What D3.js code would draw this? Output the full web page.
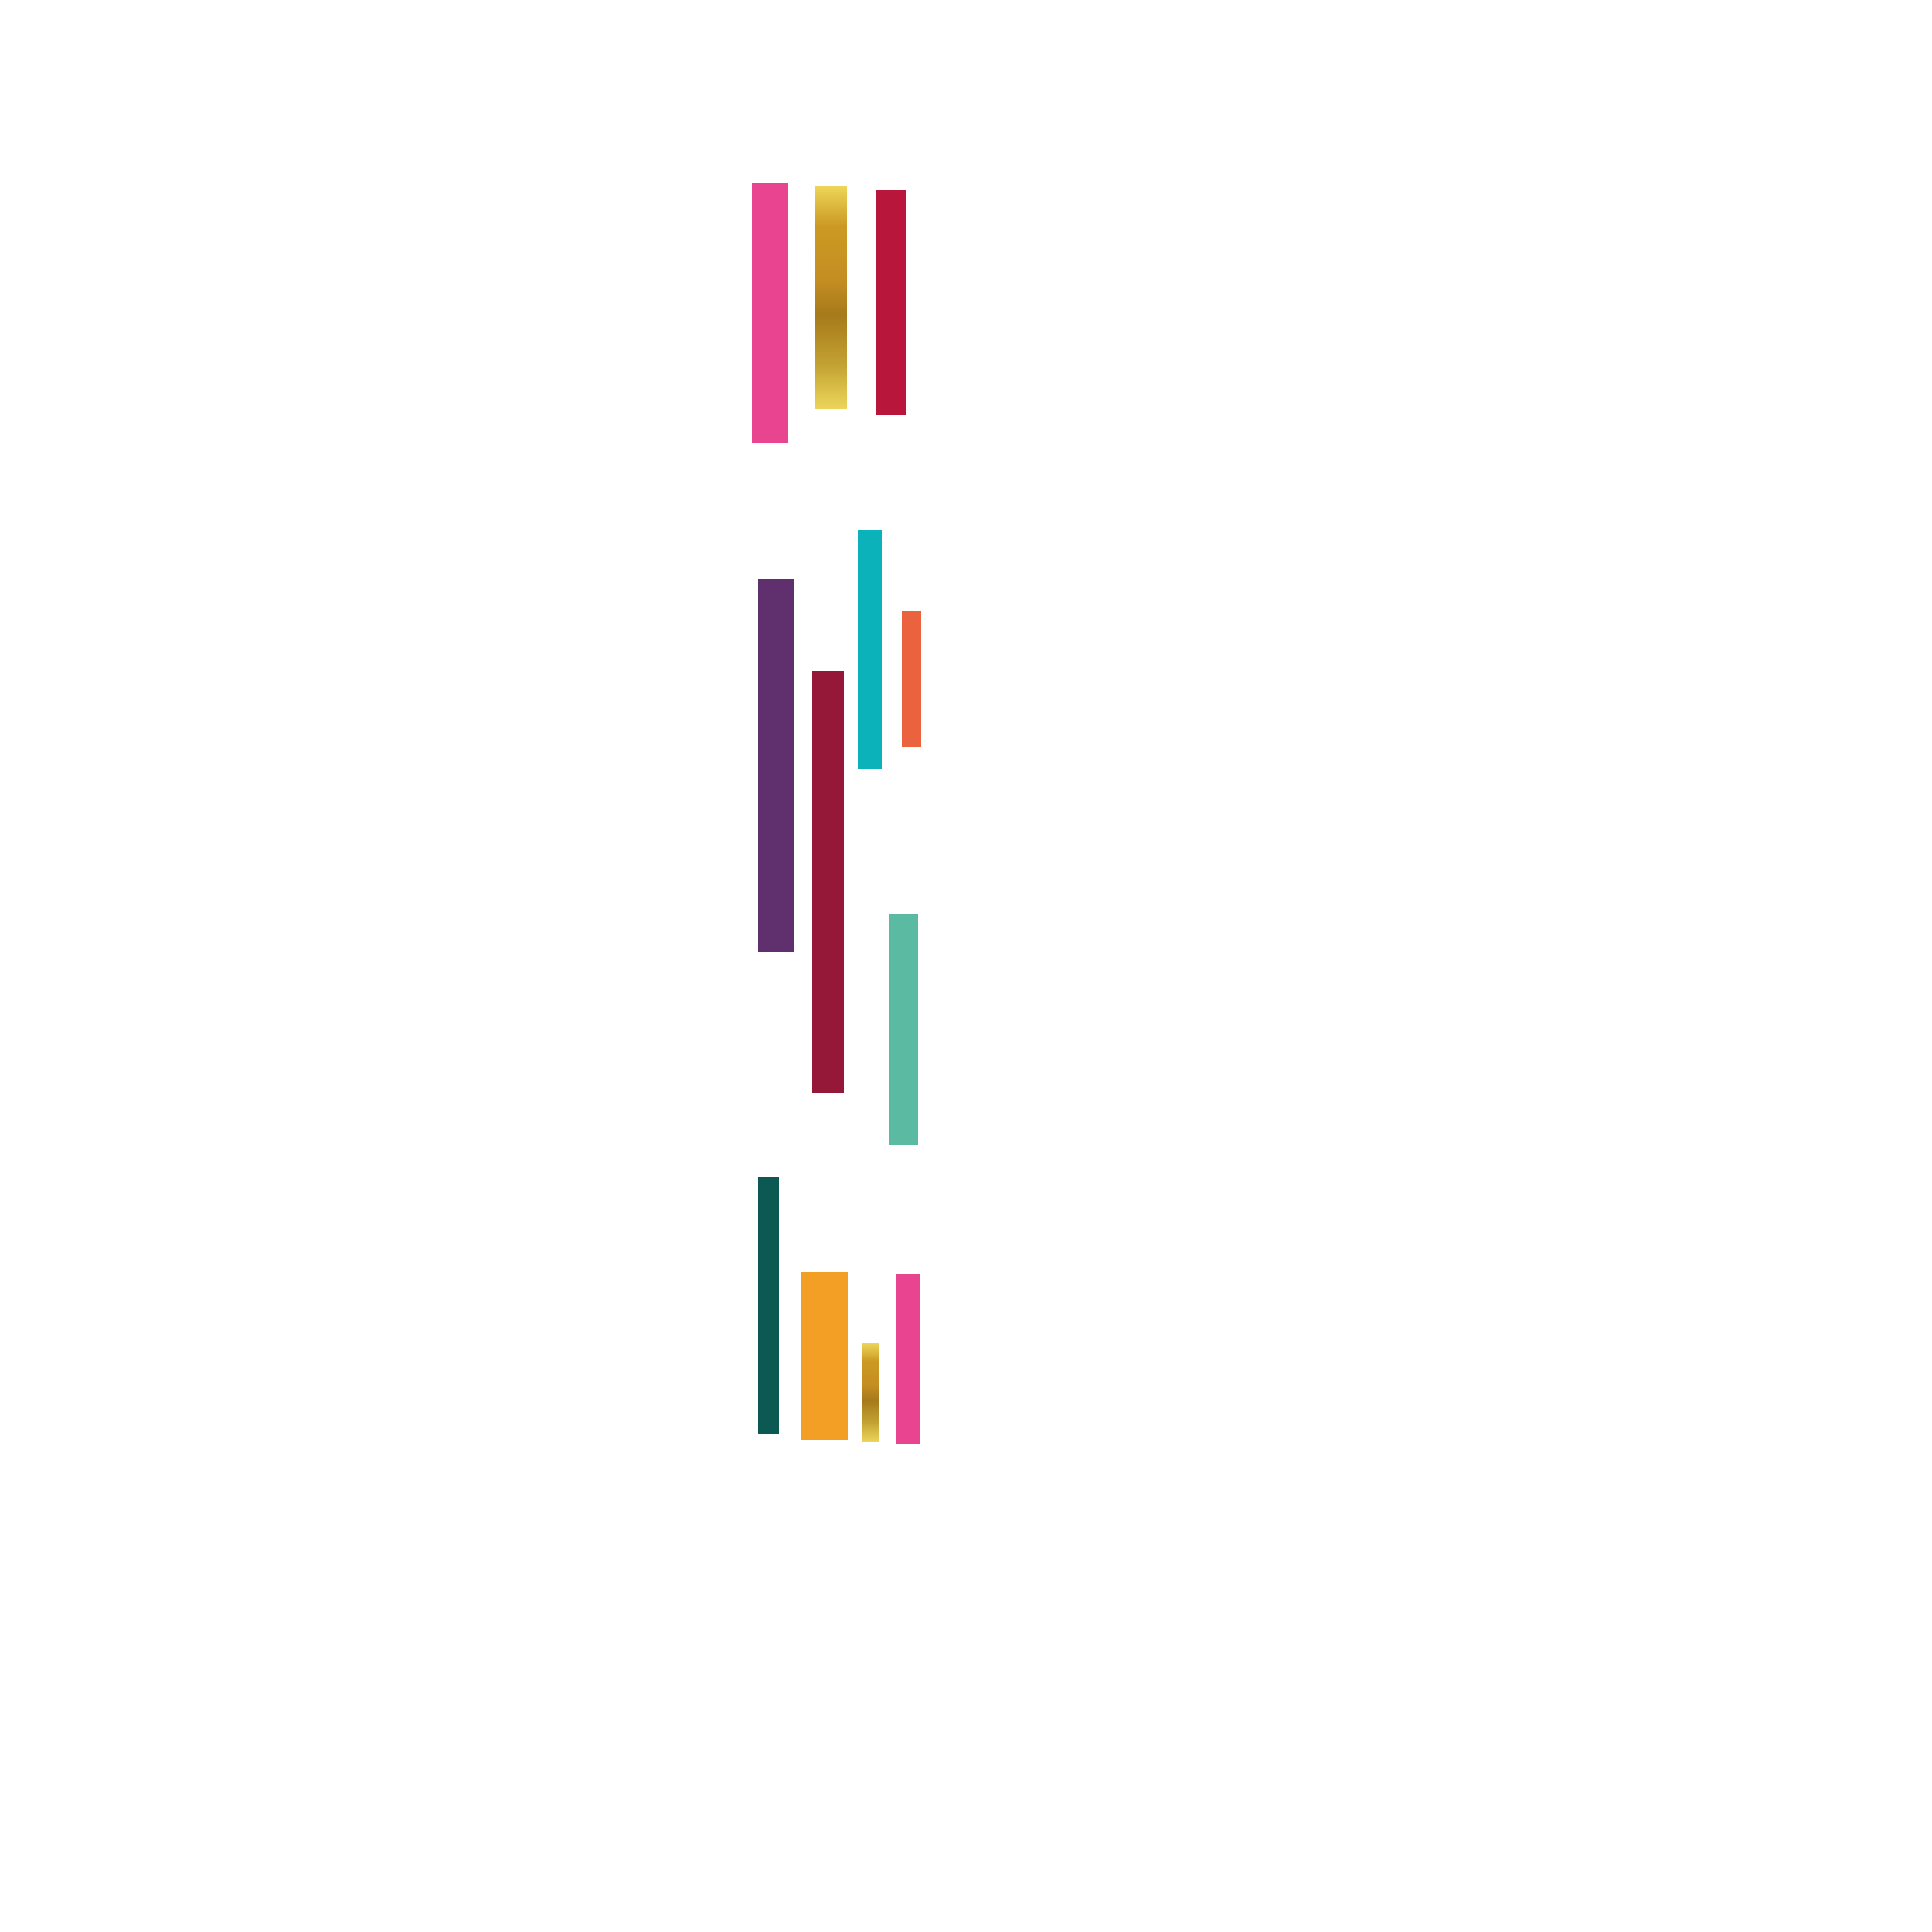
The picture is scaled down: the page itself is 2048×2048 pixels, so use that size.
<!DOCTYPE html>
<html>
<head>
<meta charset="utf-8">
<script src="https://cdn.jsdelivr.net/npm/d3@7"></script>
<style>
  html, body { margin: 0; padding: 0; background: #fff; }
</style>
</head>
<body>
<div id="chart"></div>
<script>
var ids    = ["a1", "a2", "a3", "b1", "b2", "b3", "b4", "b5", "c1", "c2", "c3", "c4"];
var groups = ["top", "top", "top", "mid", "mid", "mid", "mid", "mid", "low", "low", "low", "low"];
// value range of each bar (high end, low end)
var hiVals = [1456, 1453, 1449, 1036, 939, 1088, 1002, 681, 402, 302, 226, 299];
var loVals = [1180, 1216, 1210, 641, 491, 835, 858, 436, 130, 124, 121, 119];
// horizontal slot of each bar: centre and thickness
var xPos   = [26, 91, 154.5, 32.5, 88, 132, 176, 167.5, 25, 84, 133, 172.5];
var xSize  = [38, 34, 31, 39, 34, 26, 20, 31, 22, 50, 18, 25];
var fills  = ["#e94490", "url(#gold)", "#b8173b", "#5f2f6e", "#951838", "#0cb2b9",
              "#ea623e", "#5bbba2", "#0c5953", "#f39e24", "url(#gold)", "#e94490"];

var w = 2048,
    h = 2048;

var svg = d3.select("#chart")
  .append("svg")
  .attr("width", w)
  .attr("height", h);

svg.append("rect")
  .attr("width", w)
  .attr("height", h)
  .attr("fill", "#fff");

// gold gradient
var grad = svg.append("defs")
  .append("linearGradient")
  .attr("id", "gold")
  .attr("x1", 0).attr("y1", 0)
  .attr("x2", 0).attr("y2", 1);
var stops = [[0, "#edd65a"], [0.18, "#cc9a22"], [0.42, "#c48e22"], [0.58, "#a67a1a"], [0.8, "#c3a233"], [1, "#edd65a"]];
grad.selectAll("stop")
  .data(stops)
  .enter()
  .append("stop")
  .attr("offset", function(d) {return d[0];})
  .attr("stop-color", function(d) {return d[1];});

var x = d3.scaleLinear().domain([0, 200]).range([790, 990]);
var y = d3.scaleLinear().domain([0, 1500]).range([1650, 150]);

var data = ids.map(function(id, i) {
  return {id: id, group: groups[i], hi: hiVals[i], lo: loVals[i], xc: xPos[i], size: xSize[i], fill: fills[i]};
});

// bars
svg.selectAll(".bar")
  .data(data)
  .enter()
  .append("rect")
  .attr("class", function(d) {return "bar " + d.group;})
  .attr("x", function(d) {return x(d.xc - d.size / 2);})
  .attr("y", function(d) {return y(d.hi);})
  .attr("width", function(d) {return x(d.xc + d.size / 2) - x(d.xc - d.size / 2);})
  .attr("height", function(d) {return y(d.lo) - y(d.hi);})
  .attr("fill", function(d) {return d.fill;});
</script>
</body>
</html>
